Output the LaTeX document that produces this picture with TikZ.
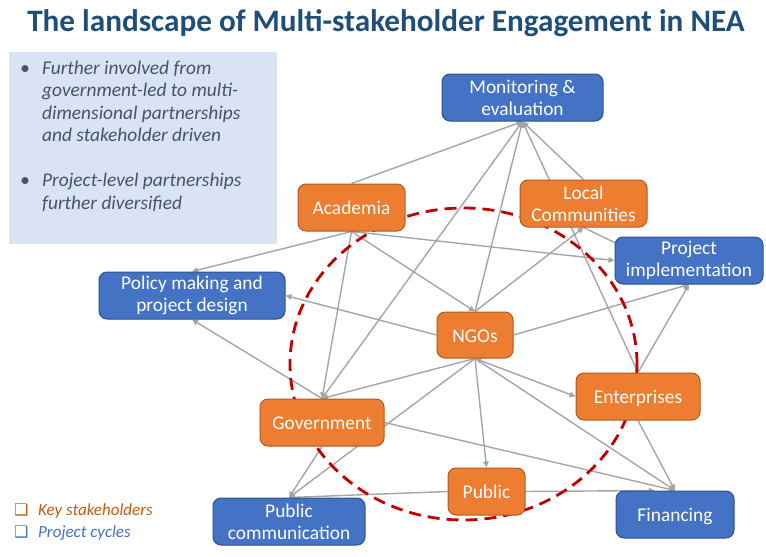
\documentclass[tikz,border=0pt]{standalone}
\usepackage{fontspec}
\setmainfont{Carlito}
\newfontfamily\dejavu{DejaVu Sans}
\usetikzlibrary{arrows.meta,calc}
\definecolor{orfill}{HTML}{ED7D31}
\definecolor{ordraw}{HTML}{AE5A21}
\definecolor{blfill}{HTML}{4472C4}
\definecolor{bldraw}{HTML}{2F528F}
\definecolor{edgegray}{HTML}{A5A5A5}
\definecolor{dashred}{HTML}{C00000}
\definecolor{titleblue}{HTML}{1F4E79}
\definecolor{panelfill}{HTML}{DAE3F3}
\definecolor{paneltext}{HTML}{44546A}
\definecolor{legor}{HTML}{C55A11}
\pgfdeclarelayer{background}
\pgfsetlayers{background,main}
\begin{document}
\begin{tikzpicture}[x=1pt,y=-1pt,
  box/.style={rounded corners=8pt, line width=1pt, text=white, align=center,
    minimum height=47pt, inner sep=0pt, font=\fontsize{19.4}{22}\selectfont},
  oneline/.style={text height=14pt, text depth=0pt},
  stake/.style={box, fill=orfill, draw=ordraw},
  cyc/.style={box, fill=blfill, draw=bldraw},
  link/.style={draw=edgegray, line width=1.4pt},
  arr/.style={link, -{Triangle[length=6pt,width=5.5pt]}},
  biarr/.style={link, {Triangle[length=6pt,width=5.5pt]}-{Triangle[length=6pt,width=5.5pt]}},
  ring/.style={draw=dashred, line width=2.8pt, dash pattern=on 12pt off 7pt},
  paneltxt/.style={anchor=base west, inner sep=0pt, text=paneltext,
    font=\fontsize{19.4}{23}\selectfont\itshape},
  legtxt/.style={anchor=base west, inner sep=0pt, font=\fontsize{17}{19}\selectfont\itshape},
  legbox/.style={anchor=base west, inner sep=0pt, font=\dejavu\fontsize{16}{18}\selectfont}
]
\useasboundingbox (0,0) rectangle (766,557);

% title
\node[anchor=base, inner sep=0pt, text=titleblue, font=\fontsize{31.2}{36}\selectfont\bfseries]
  (title) at (386,31) {The landscape of Multi-stakeholder Engagement in NEA};

% text panel
\node[fill=panelfill, minimum width=268pt, minimum height=192pt, inner sep=0pt, anchor=north west]
  (panel) at (9,52) {};
\node[paneltxt] (b1) at (20,74) {\textbullet};
\node[paneltxt] (l1) at (42,74) {Further involved from};
\node[paneltxt] (l2) at (42,96.7) {government-led to multi-};
\node[paneltxt] (l3) at (42,119.3) {dimensional partnerships};
\node[paneltxt] (l4) at (42,141.9) {and stakeholder driven};
\node[paneltxt] (b2) at (20,186.7) {\textbullet};
\node[paneltxt] (l5) at (42,186.7) {Project-level partnerships};
\node[paneltxt] (l6) at (42,209.3) {further diversified};

% legend
\node[legbox, text=legor] (k1) at (14,515) {❑};
\node[legtxt, text=legor] (k1t) at (38,515) {Key stakeholders};
\node[legbox, text=blfill] (k2) at (14,537) {❑};
\node[legtxt, text=blfill] (k2t) at (38,537) {Project cycles};

% nodes
\node[cyc, minimum width=161pt] (me) at (522.5,97.5) {Monitoring \&\\evaluation};
\node[stake, oneline, minimum width=107pt] (aca) at (351.5,207.5) {Academia};
\node[stake, minimum width=127pt] (lc) at (583.5,203.5) {Local\\Communities};
\node[cyc, minimum width=148pt] (pi) at (689,260.5) {Project\\implementation};
\node[cyc, minimum width=186pt] (pol) at (192,295.5) {Policy making and\\project design};
\node[stake, oneline, minimum width=76pt, minimum height=46pt] (ngo) at (475,335) {NGOs};
\node[stake, oneline, minimum width=124pt] (ent) at (638,396.5) {Enterprises};
\node[stake, oneline, minimum width=124pt] (gov) at (322,422.5) {Government};
\node[stake, oneline, minimum width=77pt] (pub) at (486.5,491.5) {Public};
\node[cyc, minimum width=152pt] (pc) at (289,521.5) {Public\\communication};
\node[cyc, oneline, minimum width=118pt] (fin) at (675,514.5) {Financing};

\begin{pgfonlayer}{background}
\draw[arr] (aca.north) -- (me.south);
\draw[arr] (gov.north) -- (me.south);
\draw[arr] (ngo.north) -- (me.south);
\draw[arr] (ent.north) -- (me.south);
\draw[arr] (lc.north) -- (me.south);
\draw[arr] (aca.south) -- (pol.north);
\draw[arr] (aca.south) -- (gov.north);
\draw[arr] (aca.south) -- (ngo.north);
\draw[arr] (aca.south) -- (pi.west);
\draw[arr] (ngo.north) -- (lc.south);
\draw[arr] (ngo.west) -- (pol.east);
\draw[arr] (ngo.east) -- (pi.south);
\draw[arr] (ent.north) -- (pi.south);
\draw[arr] (gov.north) -- (pol.south);
\draw[arr] (ngo.south) -- (gov.north);
\draw[arr] (ngo.south) -- (pub.north);
\draw[biarr] (ngo.south) -- (ent.west);
\draw[arr] (ngo.south) -- (fin.north);
\draw[arr] (ngo.south) -- (pc.north);
\draw[arr] (gov.south) -- (pc.north);
\draw[arr] (gov.east) -- (fin.north);
\draw[arr] (ent.south) -- (fin.north);
\draw[arr] (pub.west) -- (pc.north);
\draw[arr] (pub.east) -- ($(fin.north west)!0.33!(fin.north east)$);
\draw[link] (lc.south) -- ($(pi.north west)+(0,6)$);
\draw[ring] (463.5,364) ellipse [x radius=173.5pt, y radius=156pt];
\end{pgfonlayer}
\end{tikzpicture}
\end{document}
